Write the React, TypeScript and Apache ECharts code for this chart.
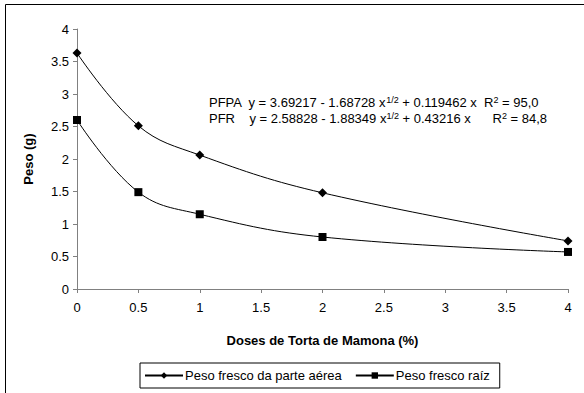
import React, { useEffect, useRef } from "react";
import * as echarts from "echarts";

const doses = [0, 0.5, 1, 2, 4];
const pesoParteAerea = [3.63, 2.51, 2.06, 1.48, 0.74];
const pesoRaiz = [2.6, 1.49, 1.15, 0.8, 0.57];
const seriesNames = ["Peso fresco da parte aérea", "Peso fresco raíz"];
const xTitle = "Doses de Torta de Mamona (%)";
const yTitle = "Peso (g)";

const FONT = "'Liberation Sans', Arial, sans-serif";

export default function App() {
  const ref = useRef<HTMLDivElement>(null);
  useEffect(() => {
    document.body.style.margin = "0";
    const chart = echarts.init(ref.current!, null, { renderer: "svg" });
    const sup = { fontSize: 9, verticalAlign: "top", padding: [0, 0, 6, 0], fontFamily: FONT, fill: "#000" } as any;
    chart.setOption({
      animation: false,
      backgroundColor: "#fff",
      textStyle: { fontFamily: FONT },
      grid: { left: 77, right: 16, top: 29, bottom: 104 },
      xAxis: {
        type: "value",
        min: 0,
        max: 4,
        interval: 0.5,
        name: xTitle,
        nameLocation: "middle",
        nameGap: 45,
        nameTextStyle: { fontWeight: "bold", fontSize: 13, color: "#000", fontFamily: FONT },
        axisLine: { lineStyle: { color: "#808080", width: 1 } },
        axisTick: { show: true, length: 4, lineStyle: { color: "#808080" } },
        axisLabel: { color: "#000", fontSize: 13, margin: 12, fontFamily: FONT },
        splitLine: { show: false },
      },
      yAxis: {
        type: "value",
        min: 0,
        max: 4,
        interval: 0.5,
        name: yTitle,
        nameLocation: "middle",
        nameGap: 42,
        nameRotate: 90,
        nameTextStyle: { fontWeight: "bold", fontSize: 13, color: "#000", fontFamily: FONT },
        axisLine: { show: true, lineStyle: { color: "#808080", width: 1 } },
        axisTick: { show: true, length: 4, lineStyle: { color: "#808080" } },
        axisLabel: { color: "#000", fontSize: 13, margin: 8, fontFamily: FONT },
        splitLine: { show: false },
      },
      legend: {
        left: 140,
        top: 363,
        orient: "horizontal",
        borderColor: "#000",
        borderWidth: 1,
        backgroundColor: "#fff",
        padding: [6, 10, 6, 4],
        itemGap: 13,
        itemWidth: 38,
        itemHeight: 8,
        textStyle: { fontSize: 13, color: "#000", fontFamily: FONT, padding: [0, 0, 0, -3] },
        data: seriesNames,
      },
      series: [
        {
          name: seriesNames[0],
          type: "line",
          data: doses.map((d, i) => [d, pesoParteAerea[i]]),
          smooth: 0.4,
          symbol: "diamond",
          symbolSize: 9,
          itemStyle: { color: "#000" },
          lineStyle: { color: "#000", width: 1 },
        },
        {
          name: seriesNames[1],
          type: "line",
          data: doses.map((d, i) => [d, pesoRaiz[i]]),
          smooth: 0.4,
          symbol: "rect",
          symbolSize: 8,
          itemStyle: { color: "#000" },
          lineStyle: { color: "#000", width: 1 },
        },
      ],
      graphic: [
        {
          type: "rect",
          shape: { x: 5.5, y: 4.5, width: 700, height: 500 },
          style: { fill: "none", stroke: "#000", lineWidth: 1 },
          silent: true,
          z: -1,
        },
        {
          type: "text",
          x: 209,
          y: 95,
          style: {
            text: "PFPA  y = 3.69217 - 1.68728 x{s|1/2} + 0.119462 x  R{s|2} = 95,0",
            font: `13px ${FONT}`,
            fill: "#000",
            rich: { s: sup },
          },
        },
        {
          type: "text",
          x: 209,
          y: 111,
          style: {
            text: "PFR    y = 2.58828 - 1.88349 x{s|1/2} + 0.43216 x      R{s|2} = 84,8",
            font: `13px ${FONT}`,
            fill: "#000",
            rich: { s: sup },
          },
        },
      ],
    });
    return () => chart.dispose();
  }, []);
  return <div ref={ref} style={{ width: 584, height: 393 }} />;
}
